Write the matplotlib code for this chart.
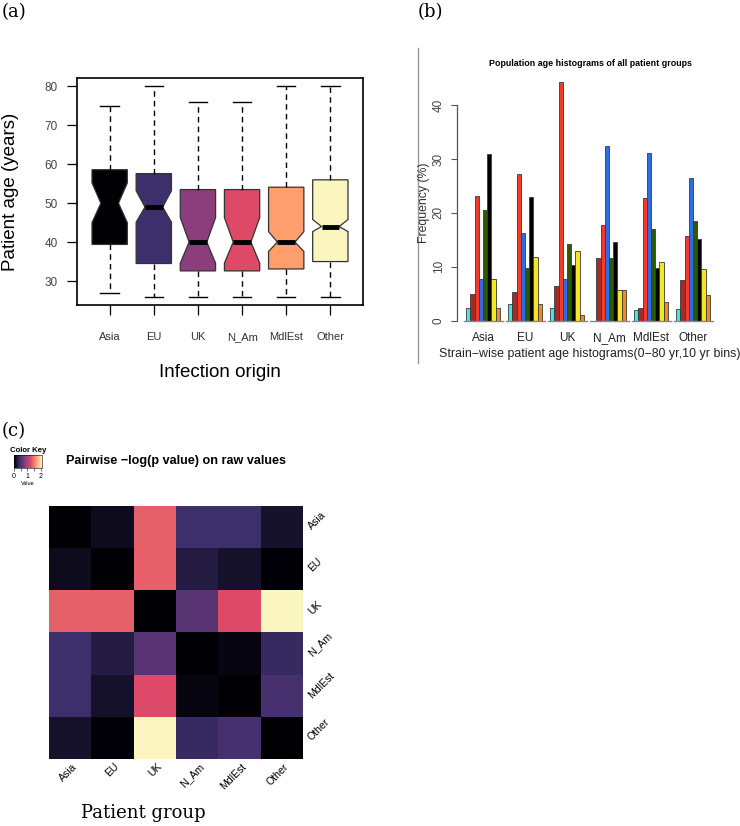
import numpy as np
import matplotlib
matplotlib.use('Agg')
import matplotlib.pyplot as plt
from matplotlib.colors import LinearSegmentedColormap, Normalize
from matplotlib.lines import Line2D

plt.rcParams['font.family'] = ['Liberation Sans', 'DejaVu Sans']

# ---------------- data ----------------
groups = ['Asia', 'EU', 'UK', 'N_Am', 'MdlEst', 'Other']

# (a) boxplot summaries (years)
box_q1 = [39.4, 34.5, 32.6, 32.6, 33.1, 35.0]
box_med = [50.0, 49.0, 40.0, 40.0, 40.0, 44.0]
box_q3 = [58.6, 57.6, 53.5, 53.5, 54.1, 56.0]
box_lo = [27, 26, 26, 26, 26, 26]
box_hi = [75, 80, 76, 76, 80, 80]
notch_lo = [45.0, 45.1, 34.6, 34.6, 37.6, 42.7]
notch_hi = [55.2, 53.2, 46.3, 46.3, 42.7, 45.8]
box_colors = ['#000004', '#3C2F6C', '#8B3D7C', '#DE4968', '#FE9F6D', '#FBF6BF']

# (b) age histograms, % per 10 yr bin (0-80)
hist_bins = ['0-10', '10-20', '20-30', '30-40', '40-50', '50-60', '60-70', '70-80']
hist_vals = {
    'Asia':   [2.4, 5.0, 23.1, 7.7, 20.5, 30.9, 7.7, 2.4],
    'EU':     [3.1, 5.4, 27.3, 16.3, 9.7, 22.9, 11.9, 3.1],
    'UK':     [2.4, 6.4, 44.3, 7.7, 14.3, 10.4, 12.9, 1.1],
    'N_Am':   [0.0, 11.7, 17.7, 32.4, 11.7, 14.6, 5.7, 5.7],
    'MdlEst': [2.0, 2.4, 22.8, 31.1, 17.1, 9.8, 10.8, 3.5],
    'Other':  [2.2, 7.5, 15.7, 26.5, 18.5, 15.1, 9.5, 4.8],
}
bin_colors = ['#3FE9EB', '#A52A2A', '#F23B2B', '#2F6DE8', '#2B5A03', '#000000', '#F5E625', '#F28A22']

# (c) pairwise -log(p value)
pval = np.array([
    [0.00, 0.10, 1.37, 0.42, 0.42, 0.17],
    [0.10, 0.00, 1.37, 0.25, 0.16, 0.01],
    [1.37, 1.37, 0.00, 0.57, 1.26, 2.10],
    [0.42, 0.25, 0.57, 0.00, 0.05, 0.38],
    [0.42, 0.16, 1.26, 0.05, 0.00, 0.48],
    [0.17, 0.01, 2.10, 0.38, 0.48, 0.00],
])

W, H = 740, 826
fig = plt.figure(figsize=(W / 100, H / 100), dpi=100)


def rect(x0, y0, x1, y1):
    # pixel box -> figure fraction
    return [x0 / W, 1 - y1 / H, (x1 - x0) / W, (y1 - y0) / H]


def fx(x):
    return x / W


def fy(y):
    return 1 - y / H


serif = ['DejaVu Serif']

# ---------------- (a) ----------------
axa = fig.add_axes(rect(77, 78, 363, 305))
stats = []
for i in range(len(groups)):
    stats.append(dict(med=box_med[i], q1=box_q1[i], q3=box_q3[i],
                      whislo=box_lo[i], whishi=box_hi[i],
                      cilo=notch_lo[i], cihi=notch_hi[i], fliers=[]))
pos = np.arange(1, len(groups) + 1)
bp = axa.bxp(stats, positions=pos, widths=0.8, shownotches=True, patch_artist=True,
             capwidths=0.42, showfliers=False,
             boxprops=dict(edgecolor='#333333', linewidth=0.9),
             whiskerprops=dict(color='black', linestyle=(0, (4, 3)), linewidth=1.0),
             capprops=dict(color='black', linewidth=1.0),
             medianprops=dict(color='black', linewidth=3.5, solid_capstyle='butt'))
for patch, c in zip(bp['boxes'], box_colors):
    patch.set_facecolor(c)
axa.set_xlim(0.26, 6.74)
axa.set_ylim(23.84, 82.16)
axa.set_yticks([30, 40, 50, 60, 70, 80])
axa.set_xticks(pos)
axa.set_xticklabels(groups)
axa.tick_params(axis='x', direction='out', length=7.2, width=0.9, pad=12.5, labelsize=8, labelcolor='#333333')
axa.tick_params(axis='y', direction='out', length=7.2, width=0.9, pad=6.5, labelsize=8.5, labelcolor='#444444')
for s in axa.spines.values():
    s.set_linewidth(1.2)
fig.text(fx(11), fy(192), 'Patient age (years)', rotation=90, ha='center', va='center', fontsize=13.5)
fig.text(fx(220), fy(372), 'Infection origin', ha='center', va='center', fontsize=13.5)

# ---------------- (b) ----------------
axb = fig.add_axes(rect(457, 78.1, 740, 320.7))
nb = len(hist_bins)
for g, name in enumerate(groups):
    lefts = g * 10 + 1 + np.arange(nb)
    axb.bar(lefts, hist_vals[name], width=1.0, align='edge', color=bin_colors,
            edgecolor='#3a3a3a', linewidth=0.6, clip_on=False)
    axb.plot([g * 10 + 0.4, g * 10 + 9.8], [0, 0], color='#888888', lw=1.0, clip_on=False)
axb.set_xlim(-1.2, 66.2)
axb.set_ylim(0, 45)
for k in ['top', 'right', 'bottom']:
    axb.spines[k].set_visible(False)
axb.spines['left'].set_bounds(0, 40)
axb.spines['left'].set_color('#555555')
axb.spines['left'].set_linewidth(0.9)
axb.set_yticks([0, 10, 20, 30, 40])
axb.set_yticklabels(['0', '10', '20', '30', '40'], rotation=90, va='center')
axb.tick_params(axis='y', direction='out', length=4.3, width=0.8, color='#555555',
                pad=4.5, labelsize=8.5, labelcolor='#444444')
axb.set_xticks([g * 10 + 5 for g in range(len(groups))])
axb.set_xticklabels(groups)
axb.tick_params(axis='x', length=0, pad=8, labelsize=8.5, labelcolor='#222222')
fig.text(fx(590.5), fy(63), 'Population age histograms of all patient groups',
         ha='center', va='center', fontsize=6.4, fontweight='bold')
fig.text(fx(590), fy(354), 'Strain\u2212wise patient age histograms(0\u221280 yr,10 yr bins)',
         ha='center', va='center', fontsize=8.9, color='#222222')
fig.text(fx(424), fy(203), 'Frequency (%)', rotation=90, ha='center', va='center', fontsize=8.8,
         color='#333333')
fig.add_artist(Line2D([fx(417.7), fx(417.7)], [fy(48), fy(363)], color='#999999', lw=1.0))

# ---------------- (c) ----------------
cmap = LinearSegmentedColormap.from_list('magma_like', box_colors)
norm = Normalize(vmin=0, vmax=2.1)
axc = fig.add_axes(rect(49.3, 506, 302.7, 759))
im = axc.imshow(pval, cmap=cmap, norm=norm, aspect='auto', interpolation='nearest')
axc.set_xticks([])
axc.set_yticks([])
for s in axc.spines.values():
    s.set_visible(False)
cell = (302.7 - 49.3) / 6
for i, name in enumerate(groups):
    # row labels (right side)
    fig.text(fx(302.7 + 7), fy(506 + cell * (i + 0.5) + 1), name, rotation=45,
             rotation_mode='anchor', ha='left', va='center', fontsize=7.6)
    # column labels (bottom)
    fig.text(fx(49.3 + cell * (i + 0.5) + 5), fy(759 + 6), name, rotation=45,
             rotation_mode='anchor', ha='right', va='center', fontsize=7.6)
fig.text(fx(176), fy(461), 'Pairwise \u2212log(p value) on raw values', ha='center', va='center',
         fontsize=9.1, fontweight='bold')
fig.text(fx(143), fy(813), 'Patient group', ha='center', va='center', fontsize=13, family=serif)

# colour key
cax = fig.add_axes(rect(14, 455, 42, 468))
cb = fig.colorbar(im, cax=cax, orientation='horizontal', ticks=[0, 0.5, 1, 1.5, 2])
cb.set_ticklabels(['0', '', '1', '', '2'])
cb.outline.set_linewidth(0.4)
cax.tick_params(length=2, width=0.4, pad=1.5, labelsize=5)
cax.set_xlabel('Value', fontsize=4, labelpad=1)
cax.set_title('Color Key', fontsize=5.6, fontweight='bold', pad=2)

# panel letters
fig.text(fx(2), fy(12), '(a)', ha='left', va='center', fontsize=13, family=serif)
fig.text(fx(418), fy(12), '(b)', ha='left', va='center', fontsize=13, family=serif)
fig.text(fx(2), fy(431), '(c)', ha='left', va='center', fontsize=13, family=serif)

fig.savefig('out.png', dpi=100)
